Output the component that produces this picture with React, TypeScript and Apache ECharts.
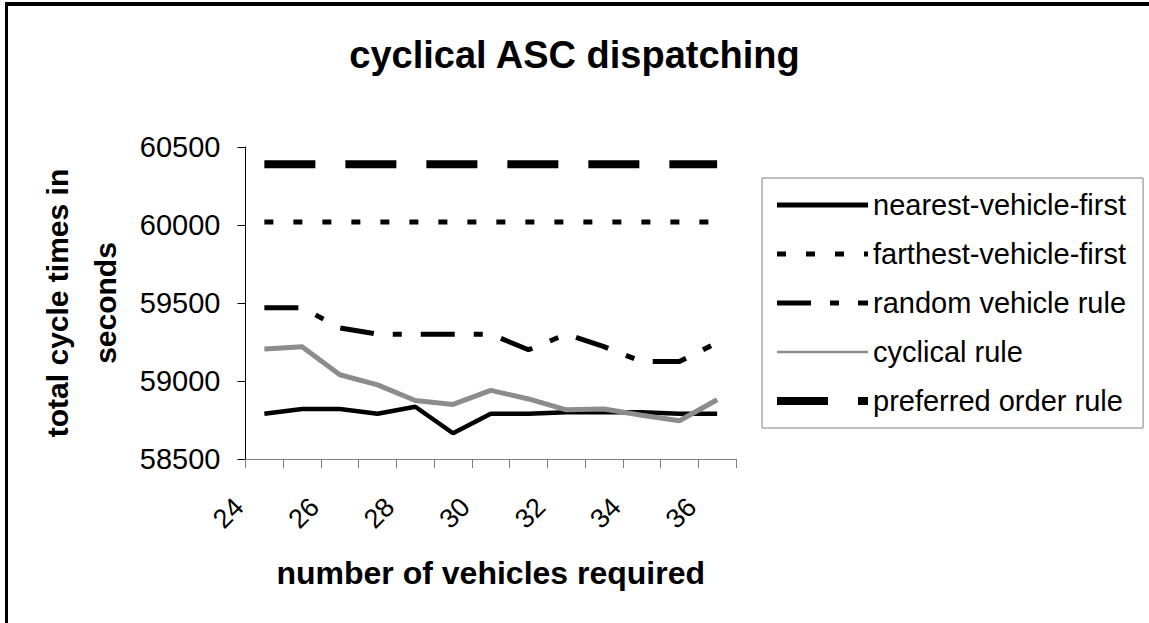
import React, { useEffect, useRef } from "react";
import * as echarts from "echarts";

const categories = ["24", "25", "26", "27", "28", "29", "30", "31", "32", "33", "34", "35", "36"];
const nearestVehicleFirst = [58790, 58820, 58820, 58790, 58835, 58665, 58790, 58790, 58800, 58800, 58800, 58790, 58790];
const farthestVehicleFirst = [60020, 60020, 60020, 60020, 60020, 60020, 60020, 60020, 60020, 60020, 60020, 60020, 60020];
const randomVehicleRule = [59470, 59470, 59340, 59300, 59300, 59300, 59300, 59200, 59300, 59220, 59125, 59125, 59245];
const cyclicalRule = [59205, 59220, 59040, 58975, 58875, 58850, 58940, 58885, 58815, 58820, 58780, 58745, 58880];
const preferredOrderRule = [60390, 60390, 60390, 60390, 60390, 60390, 60390, 60390, 60390, 60390, 60390, 60390, 60390];
const yTicks = { min: 58500, max: 60500, interval: 500 };

const FONT = "Arial, 'Liberation Sans', sans-serif";

export default function App() {
  const ref = useRef<HTMLDivElement>(null);
  useEffect(() => {
    if (!ref.current) return;
    const chart = echarts.init(ref.current, null, { renderer: "svg" });
    const names = [
      "nearest-vehicle-first",
      "farthest-vehicle-first",
      "random vehicle rule",
      "cyclical rule",
      "preferred order rule",
    ];
    chart.setOption({
      animation: false,
      backgroundColor: "#ffffff",
      textStyle: { fontFamily: FONT },
      title: {
        text: "cyclical ASC dispatching",
        left: "center",
        top: 31,
        textStyle: { fontFamily: FONT, fontSize: 38, fontWeight: "bold", color: "#000" },
      },
      graphic: [
        { type: "rect", shape: { x: 5, y: 2, width: 1144, height: 4 }, style: { fill: "#000" } },
        { type: "rect", shape: { x: 5, y: 2, width: 3, height: 621 }, style: { fill: "#000" } },
      ],
      legend: {
        orient: "vertical",
        left: 762,
        top: 178,
        padding: [12, 17, 12, 11],
        itemGap: 19,
        itemWidth: 91,
        itemHeight: 14,
        borderColor: "#808080",
        borderWidth: 1,
        itemStyle: { opacity: 0 },
        textStyle: { fontFamily: FONT, fontSize: 29, color: "#000", lineHeight: 30 },
        data: [
          { name: names[0], lineStyle: { width: 5 } },
          { name: names[1], lineStyle: { width: 5 } },
          { name: names[2], lineStyle: { width: 5 } },
          { name: names[3], lineStyle: { width: 2.5 } },
          { name: names[4], lineStyle: { width: 8 } },
        ],
      },
      grid: { left: 245.5, right: 413, top: 147, bottom: 164 },
      xAxis: {
        type: "category",
        data: categories,
        boundaryGap: true,
        name: "number of vehicles required",
        nameLocation: "middle",
        nameGap: 97,
        nameTextStyle: { fontFamily: FONT, fontSize: 32, fontWeight: "bold", color: "#000", lineHeight: 34 },
        axisLine: { lineStyle: { color: "#808080", width: 1 } },
        axisTick: { show: true, interval: 0, length: 9, lineStyle: { color: "#808080" } },
        axisLabel: {
          interval: 1,
          rotate: 45,
          margin: 18,
          color: "#000",
          fontFamily: FONT,
          fontSize: 27,
          formatter: (v: string) => `{a|${v}}`,
          rich: { a: { fontFamily: FONT, fontSize: 27, color: "#000", padding: [0, 36, 0, 0] } },
        },
        splitLine: { show: false },
      },
      yAxis: {
        type: "value",
        min: yTicks.min,
        max: yTicks.max,
        interval: yTicks.interval,
        name: "total cycle times in\nseconds",
        nameLocation: "middle",
        nameGap: 116,
        nameRotate: 90,
        nameTextStyle: { fontFamily: FONT, fontSize: 30, fontWeight: "bold", color: "#000", lineHeight: 48 },
        axisLine: { show: true, lineStyle: { color: "#000", width: 1 } },
        axisTick: { show: true, length: 8, lineStyle: { color: "#000" } },
        axisLabel: {
          margin: 25,
          color: "#000",
          fontFamily: FONT,
          fontSize: 29,
          formatter: (v: number) => String(v),
        },
        splitLine: { show: false },
      },
      series: [
        {
          name: names[0],
          type: "line",
          data: nearestVehicleFirst,
          symbol: "none",
          lineStyle: { color: "#000", width: 4.5, type: "solid" },
          itemStyle: { color: "#000" },
        },
        {
          name: names[1],
          type: "line",
          data: farthestVehicleFirst,
          symbol: "none",
          lineStyle: { color: "#000", width: 5, type: [9, 20] },
          itemStyle: { color: "#000" },
        },
        {
          name: names[2],
          type: "line",
          data: randomVehicleRule,
          symbol: "none",
          lineStyle: { color: "#000", width: 5, type: [34, 19, 9, 19] },
          itemStyle: { color: "#000" },
        },
        {
          name: names[3],
          type: "line",
          data: cyclicalRule,
          symbol: "none",
          lineStyle: { color: "#8c8c8c", width: 5, type: "solid" },
          itemStyle: { color: "#8c8c8c" },
        },
        {
          name: names[4],
          type: "line",
          data: preferredOrderRule,
          symbol: "none",
          lineStyle: { color: "#000", width: 8, type: [51, 30] },
          itemStyle: { color: "#000" },
        },
      ],
    });
    return () => chart.dispose();
  }, []);
  return (
    <div
      ref={ref}
      style={{ position: "fixed", left: 0, top: 0, width: 1149, height: 623, background: "#fff" }}
    />
  );
}
